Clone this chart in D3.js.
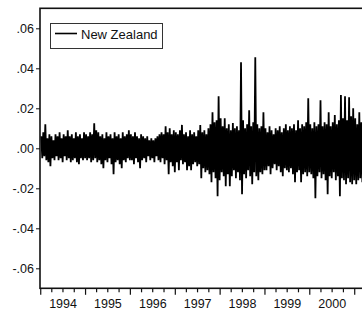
<!DOCTYPE html>
<html>
<head>
<meta charset="utf-8">
<script src="https://cdn.jsdelivr.net/npm/d3@7"></script>
<style>
  body { margin: 0; background: #fff; }
  text { font-family: Arial, "Liberation Sans", sans-serif; fill: #111; }
</style>
</head>
<body>
<svg id="chart" width="362" height="313"></svg>
<script>
// daily returns, read off the picture as alternating highs and lows (roughly one pair per 2px)
var nz1994 = [.006,-.005,.008,-.004,.012,-.006,.005,-.007,.007,-.009,.006,-.005,.004,-.006,.007,-.004,.006,-.006,.008,-.005,.005,-.007,
              .007,-.004,.006,-.006,.009,-.005,.006,-.007,.007,-.006,.005,-.005,.008,-.007,.006,-.008,.007,-.005,.005,-.006,.008,-.005];
var nz1995 = [.007,-.006,.006,-.005,.008,-.007,.007,-.006,.0125,-.005,.009,-.007,.008,-.006,.006,-.008,.007,-.010,.005,-.006,.008,-.007,
              .006,-.005,.007,-.008,.005,-.013,.008,-.007,.006,-.006,.007,-.008,.005,-.010,.008,-.006,.006,-.007,.007,-.005,.009,-.006];
var nz1996 = [.007,-.006,.006,-.008,.008,-.005,.006,-.007,.005,-.010,.007,-.006,.006,-.005,.005,-.007,.006,-.004,.004,-.006,.005,-.005,
              .004,-.007,.005,-.004,.006,-.006,.007,-.007,.008,-.005,.007,-.008,.011,-.006,.008,-.013,.010,-.007,.007,-.009,.009,-.012];
var nz1997 = [.008,-.007,.007,-.011,.009,-.006,.0117,-.008,.007,-.007,.008,-.011,.006,-.009,.009,-.011,.007,-.008,.008,-.007,.006,-.009,
              .009,-.008,.0117,-.015,.008,-.010,.009,-.012,.007,-.011,.010,-.013,.012,-.017,.018,-.012,.013,-.015,.014,-.024,.026,-.016];
var nz1998 = [.015,-.012,.011,-.014,.015,-.019,.010,-.013,.012,-.019,.009,-.014,.0127,-.011,.010,-.015,.011,-.012,.009,-.016,.043,-.023,
              .014,-.013,.010,-.015,.012,-.011,.019,-.014,.011,-.018,.013,-.012,.0455,-.014,.012,-.016,.010,-.012,.011,-.013,.018,-.011];
var nz1999 = [.010,-.011,.008,-.009,.011,-.013,.009,-.010,.007,-.008,.010,-.011,.009,-.009,.011,-.012,.008,-.014,.010,-.010,.012,-.011,
              .009,-.012,.011,-.010,.010,-.013,.012,-.017,.009,-.012,.014,-.011,.010,-.017,.012,-.013,.011,-.012,.013,-.014,.025,-.012];
var nz2000 = [.012,-.013,.010,-.015,.013,-.025,.011,-.014,.012,-.012,.024,-.015,.011,-.013,.013,-.016,.012,-.023,.018,-.014,.011,-.015,
              .013,-.012,.0167,-.016,.012,-.014,.014,-.024,.0267,-.015,.015,-.016,.026,-.018,.014,-.015,.0255,-.017,.016,-.018,.020,-.016];
var nz2001 = [.015,-.018,.012,-.016,.018,-.015,.013,-.017,.011,-.014,.014,-.016];

var years = [1994, 1995, 1996, 1997, 1998, 1999, 2000, 2001];
var seriesByYear = [nz1994, nz1995, nz1996, nz1997, nz1998, nz1999, nz2000, nz2001];
var yTicks = [.06, .04, .02, 0, -.02, -.04, -.06];
var seriesName = "New Zealand";

var perYear = 44; // points per year slot

// build the dated series
var data = [];
years.forEach(function(yr, j) {
    var t0 = Date.UTC(yr, 0, 1), t1 = Date.UTC(yr + 1, 0, 1);
    seriesByYear[j].forEach(function(v, i) {
        data.push({date: new Date(t0 + (i + 0.5) / perYear * (t1 - t0)), value: v});
    });
});

var svg = d3.select("#chart");

var plotLeft = 40, plotTop = 8.3, plotBottom = 288.3;
var yearPx = 44.85;
var start = new Date(Date.UTC(1993, 11, 26)), end = new Date(Date.UTC(2001, 6, 1));
var x = d3.scaleTime()
    .domain([start, end])
    .range([plotLeft, plotLeft + (end - start) / (365.25 * 864e5) * yearPx]);
var y = d3.scaleLinear().domain([-0.07, 0.07]).range([plotBottom, plotTop]);
var plotRight = x.range()[1];

svg.append("clipPath").attr("id", "clip")
  .append("rect").attr("x", plotLeft).attr("y", plotTop)
    .attr("width", plotRight - plotLeft).attr("height", plotBottom - plotTop);

// series
var line = d3.line().x(function(d) { return x(d.date); }).y(function(d) { return y(d.value); });
svg.append("path")
    .datum(data)
    .attr("clip-path", "url(#clip)")
    .attr("d", line)
    .attr("fill", "none")
    .attr("stroke", "#000")
    .attr("stroke-width", 1.8);

// frame
svg.append("rect")
    .attr("x", plotLeft).attr("y", plotTop)
    .attr("width", plotRight - plotLeft).attr("height", plotBottom - plotTop)
    .attr("fill", "none").attr("stroke", "#111").attr("stroke-width", 1.6);

// y axis
var fmt = function(d) { return d3.format(".2f")(d).replace("\u2212", "-").replace("0.", "."); };
var yAxis = svg.append("g")
    .attr("transform", "translate(" + plotLeft + ",0)")
    .call(d3.axisLeft(y).tickValues(yTicks).tickSize(4).tickPadding(2).tickFormat(fmt));
yAxis.select(".domain").remove();
yAxis.selectAll("line").attr("stroke", "#111");
yAxis.selectAll("text").style("font-size", "12.5px").style("font-family", "Arial, 'Liberation Sans', sans-serif").attr("fill", "#111");

// x axis: year ticks, quarter ticks, labels mid year
var xAxisG = svg.append("g").attr("transform", "translate(0," + plotBottom + ")");
var quarters = d3.utcMonth.every(3).range(new Date(Date.UTC(1994, 0, 1)), end);
xAxisG.selectAll("line.q")
    .data(quarters)
  .enter().append("line")
    .attr("x1", function(d) { return x(d); }).attr("x2", function(d) { return x(d); })
    .attr("y1", 0)
    .attr("y2", function(d) { return d.getUTCMonth() === 0 ? 6.5 : 4; })
    .attr("stroke", "#111").attr("stroke-width", 1.2);
xAxisG.selectAll("text")
    .data(years.slice(0, 7))
  .enter().append("text")
    .attr("x", function(d) { return x(new Date(Date.UTC(d, 6, 2))); })
    .attr("y", 20)
    .attr("text-anchor", "middle")
    .style("font-size", "12.5px")
    .text(function(d) { return d; });

// legend
var lg = svg.append("g");
lg.append("rect").attr("x", 50.5).attr("y", 23.5).attr("width", 112).attr("height", 25)
    .attr("fill", "#fff").attr("stroke", "#333").attr("stroke-width", 1);
lg.append("line").attr("x1", 55).attr("x2", 77).attr("y1", 33.5).attr("y2", 33.5)
    .attr("stroke", "#000").attr("stroke-width", 1.6);
lg.append("text").attr("x", 81).attr("y", 38.5).style("font-size", "13px").text(seriesName);
</script>
</body>
</html>
